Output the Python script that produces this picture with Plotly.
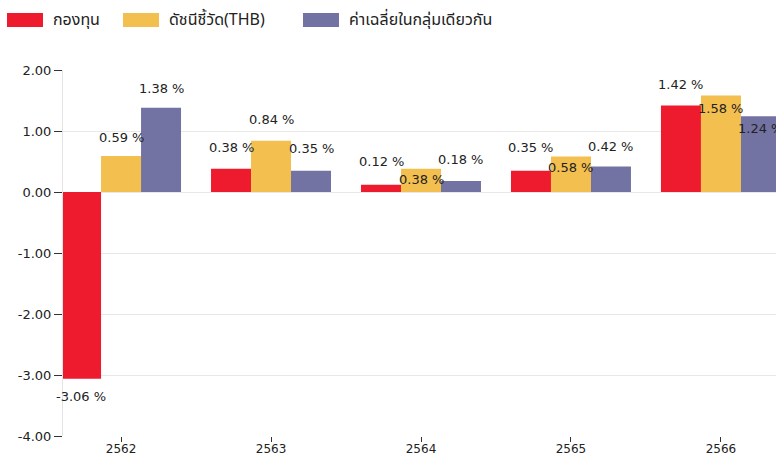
import plotly.graph_objects as go

# ---- data ----
years = ["2562", "2563", "2564", "2565", "2566"]
fund = [-3.06, 0.38, 0.12, 0.35, 1.42]
benchmark = [0.59, 0.84, 0.38, 0.58, 1.58]
peer_avg = [1.38, 0.35, 0.18, 0.42, 1.24]
series_names = ["กองทุน", "ดัชนีชี้วัด(THB)", "ค่าเฉลี่ยในกลุ่มเดียวกัน"]
y_ticks = [2, 1, 0, -1, -2, -3, -4]

# ---- style ----
colors = ["#EE1B2F", "#F3BF4F", "#7373A3"]
label_shift = [
    [-18, 21, 23, 23, 21],
    [19, 21, -11, -11, -13],
    [19, 22, 22, 20, -12],
]
FONT = "DejaVu Sans"
W, H = 776, 459
ML, MR, MT, MB = 63, 0, 70, 23

x_idx = list(range(len(years)))
series = [fund, benchmark, peer_avg]

fig = go.Figure()
for name, vals, col in zip(series_names, series, colors):
    fig.add_trace(go.Bar(
        x=x_idx, y=vals, name=name,
        marker=dict(color=col, line=dict(width=0)),
        showlegend=False,
    ))

bar_w = 0.8 / 3
annotations = []
for s, (vals, shifts) in enumerate(zip(series, label_shift)):
    for i, v in enumerate(vals):
        annotations.append(dict(
            x=i + (s - 1) * bar_w, y=v, xref="x", yref="y",
            text=f"{v:.2f} %", showarrow=False,
            yshift=shifts[i], xanchor="center", yanchor="middle",
            font=dict(family=FONT, size=13, color="#222222"),
        ))

# custom legend (wide rectangles)
pw = W - ML - MR
ph = H - MT - MB
def px(x):
    return (x - ML) / pw
def py(y):
    return (H - MB - y) / ph

shapes = []
leg_x = [7, 123, 303]
for name, col, lx in zip(series_names, colors, leg_x):
    shapes.append(dict(type="rect", xref="paper", yref="paper",
                       x0=px(lx), x1=px(lx + 36), y0=py(27), y1=py(13),
                       fillcolor=col, line=dict(width=0)))
    annotations.append(dict(
        x=px(lx + 44), y=py(20), xref="paper", yref="paper",
        text=name, showarrow=False, xanchor="left", yanchor="middle",
        font=dict(family="Noto Sans Thai, Noto Sans, DejaVu Sans, sans-serif", size=16, color="#222222"),
    ))

fig.update_layout(
    width=W, height=H,
    margin=dict(l=ML, r=MR, t=MT, b=MB, pad=0),
    paper_bgcolor="white", plot_bgcolor="white",
    barmode="group", bargap=0.2, bargroupgap=0,
    annotations=annotations, shapes=shapes,
    showlegend=False,
    font=dict(family=FONT, size=12, color="#222222"),
)
fig.update_xaxes(
    range=[-0.387, 4.367],
    tickmode="array", tickvals=x_idx, ticktext=years,
    showgrid=False, zeroline=False,
    showline=False,
    ticks="outside", ticklen=5, tickcolor="#333333", tickwidth=1,
    ticklabelstandoff=-3,
    tickfont=dict(family=FONT, size=12, color="#222222"),
)
fig.update_yaxes(
    range=[-4, 2],
    tickmode="array", tickvals=y_ticks, ticktext=[f"{t:.2f}" for t in y_ticks],
    showgrid=True, gridcolor="#E8E8E8", gridwidth=1,
    zeroline=False,
    showline=True, linecolor="#E4E4E4", linewidth=1,
    ticks="outside", ticklen=8, tickcolor="#333333", tickwidth=1,
    tickfont=dict(family=FONT, size=13, color="#222222"),
)

fig.write_html(
    "out.html",
    config={"displayModeBar": False},
    post_script="document.body.style.margin='0';document.body.style.overflow='hidden';",
)
